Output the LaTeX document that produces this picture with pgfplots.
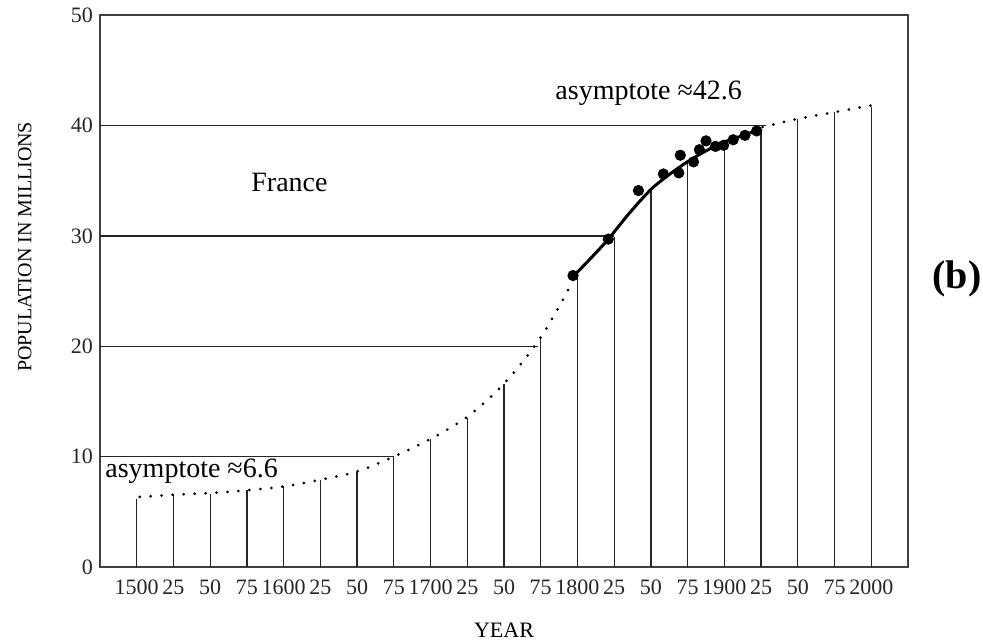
\documentclass[border=0pt]{standalone}
\usepackage{fontspec}
\setmainfont{Liberation Serif}
\usepackage{pgfplots}
\pgfplotsset{compat=1.18}
\begin{document}
\begin{tikzpicture}
\begin{axis}[
  scale only axis,
  width=404pt, height=276pt,
  xmin=1475, xmax=2025, ymin=0, ymax=50,
  clip=false,
  axis line style={line width=0.8pt, black!75},
  xtick={1500,1525,...,2000},
  xticklabels={1500,25,50,75,1600,25,50,75,1700,25,50,75,1800,25,50,75,1900,25,50,75,2000},
  ytick={0,10,20,30,40,50},
  xtick pos=bottom,
  tick align=inside,
  major tick length=3pt,
  xtick style={black, line width=0.6pt},
  ytick style={draw=none},
  /pgf/number format/assume math mode=true,
  tick label style={font=\fontsize{11}{13}\selectfont, text=black!85},
  xticklabel style={yshift=-3pt},
  xlabel={YEAR},
  ylabel={POPULATION IN MILLIONS},
  xlabel style={font=\fontsize{11}{13}\selectfont, at={(axis description cs:0.5,-0.114)}, anchor=center},
  ylabel style={font=\fontsize{10}{12}\selectfont, at={(axis description cs:-0.093,0.58)}, anchor=center},
]
% vertical comb lines
\addplot[ycomb, no marks, black!85, line width=0.65pt] coordinates {
 (1500,6.2) (1525,6.55) (1550,6.65) (1575,6.95) (1600,7.3) (1625,7.9) (1650,8.65)
 (1675,10.0) (1700,11.6) (1725,13.5) (1750,16.6) (1775,20.7) (1800,26.3) (1825,29.9)
 (1850,34.1) (1875,36.9) (1900,38.1) (1925,39.7) (1950,40.6) (1975,41.2) (2000,41.7)
};
% horizontal lines
\addplot[black!85, line width=0.7pt] coordinates {(1475,10) (1675,10)};
\addplot[black!85, line width=0.7pt] coordinates {(1475,20) (1773,20)};
\addplot[black!85, line width=0.7pt] coordinates {(1475,30) (1825,30)};
\addplot[black!85, line width=0.7pt] coordinates {(1475,40) (1928,40)};
% dotted logistic, early part
\addplot[smooth, black, line width=1.5pt, line cap=round, dash pattern=on 0pt off 5.5pt] coordinates {
 (1502,6.35) (1525,6.55) (1550,6.7) (1575,6.95) (1600,7.3) (1625,7.9) (1650,8.65)
 (1675,10.0) (1700,11.6) (1725,13.6) (1750,16.6) (1775,20.8) (1797,25.9)
};
% solid fitted part
\addplot[smooth, black, line width=1.5pt] coordinates {
 (1797,26.3) (1810,28.1) (1821,29.7) (1835,32.0) (1850,34.2) (1863,35.6) (1876,36.8)
 (1889,37.8) (1902,38.6) (1913,39.1) (1923,39.6)
};
% dotted logistic, late part
\addplot[smooth, black, line width=1.5pt, line cap=round, dash pattern=on 0pt off 5.5pt] coordinates {
 (1926,39.85) (1937,40.2) (1950,40.6) (1962,40.9) (1975,41.2) (1987,41.5) (2000,41.8)
};
% census data points
\addplot[only marks, mark=*, mark size=2.6pt, black] coordinates {
 (1797,26.4) (1821,29.7) (1841.5,34.1) (1858.5,35.6) (1870,37.3) (1869,35.7)
 (1879,36.7) (1883,37.8) (1887.5,38.6) (1894,38.1) (1899.5,38.2) (1906,38.7)
 (1914,39.1) (1922,39.5)
};
\node[font=\fontsize{14}{16}\selectfont] at (axis cs:1604,34.8) {France};
\node[font=\fontsize{14}{16}\selectfont] at (axis cs:1848.5,42.9) {asymptote ≈42.6};
\node[font=\fontsize{14}{16}\selectfont, anchor=west, inner sep=0pt] at (axis cs:1478.4,8.7) {asymptote ≈6.6};
\node[font=\fontsize{20}{22}\selectfont\bfseries] at (rel axis cs:1.0606,0.522) {(b)};
\coordinate (O) at (rel axis cs:0,0);
\end{axis}
\pgfresetboundingbox
\path[use as bounding box] (O) ++(-50pt,-38pt) rectangle ++(491.5pt,321.5pt);
\end{tikzpicture}
\end{document}
